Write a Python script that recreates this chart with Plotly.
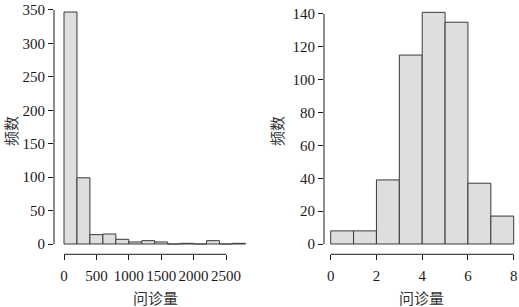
import plotly.graph_objects as go

# Left histogram: bin edges and counts
left_breaks = [0, 200, 400, 600, 800, 1000, 1200, 1400, 1600, 1800, 2000, 2200, 2400, 2600, 2800]
left_counts = [347, 99, 14, 15, 7, 3, 5, 3, 0, 1, 0, 5, 0, 1]
left_xticks = [0, 500, 1000, 1500, 2000, 2500]
left_yticks = [0, 50, 100, 150, 200, 250, 300, 350]

# Right histogram
right_breaks = [0, 1, 2, 3, 4, 5, 6, 7, 8]
right_counts = [8, 8, 39, 115, 141, 135, 37, 17]
right_xticks = [0, 2, 4, 6, 8]
right_yticks = [0, 20, 40, 60, 80, 100, 120, 140]

x_title = "问诊量"
y_title = "频数"

W, H = 519, 307
FILL = "#DEDEDE"
EDGE = "#3a3a3a"
TXT = "#1a1a1a"
SERIF = "'Times New Roman', 'Liberation Serif', 'DejaVu Serif', serif"
CJK = "Noto Sans CJK SC"


def px_x(p):
    return p / W


def px_y(p):
    return 1 - p / H


def mids(b):
    return [(b[i] + b[i + 1]) / 2 for i in range(len(b) - 1)]


def widths(b):
    return [b[i + 1] - b[i] for i in range(len(b) - 1)]


fig = go.Figure()
fig.add_trace(go.Bar(x=mids(left_breaks), y=left_counts, width=widths(left_breaks),
                     marker=dict(color=FILL, line=dict(color=EDGE, width=1)),
                     xaxis="x", yaxis="y", showlegend=False, hoverinfo="skip"))
fig.add_trace(go.Bar(x=mids(right_breaks), y=right_counts, width=widths(right_breaks),
                     marker=dict(color=FILL, line=dict(color=EDGE, width=1)),
                     xaxis="x2", yaxis="y2", showlegend=False, hoverinfo="skip"))

top_px, bot_px = 3, 254.3
# panel pixel geometry
L_x0, L_x1, L_zero, L_sx = 54, 256, 64, 0.0648
L_yzero, L_sy = 244, 0.6686
R_x0, R_x1, R_zero, R_sx = 324, 519, 330.7, 22.875
R_yzero, R_sy = 244, 1.643

tickfont = dict(family=SERIF, size=15, color=TXT)
common_x = dict(showgrid=False, zeroline=False, showline=False, ticks="outside", ticklen=5,
                tickwidth=1, tickcolor=TXT, tickfont=tickfont, tickangle=0, fixedrange=True,
                automargin=False, ticklabelstandoff=3)
common_y = dict(showgrid=False, zeroline=False, showline=False, ticks="outside", ticklen=5,
                tickwidth=1, tickcolor=TXT, tickfont=tickfont, fixedrange=True,
                automargin=False)

fig.update_layout(
    width=W, height=H, margin=dict(l=0, r=0, t=0, b=0, autoexpand=False),
    paper_bgcolor="white", plot_bgcolor="white", bargap=0,
    xaxis=dict(domain=[px_x(L_x0), px_x(L_x1)],
               range=[(L_x0 - L_zero) / L_sx, (L_x1 - L_zero) / L_sx],
               tickvals=left_xticks, ticktext=[str(v) for v in left_xticks],
               anchor="y", **common_x),
    yaxis=dict(domain=[px_y(bot_px), px_y(top_px)],
               range=[-(bot_px - L_yzero) / L_sy, (L_yzero - top_px) / L_sy],
               tickvals=left_yticks, ticktext=[str(v) for v in left_yticks],
               anchor="x", **common_y),
    xaxis2=dict(domain=[px_x(R_x0), px_x(R_x1)],
                range=[(R_x0 - R_zero) / R_sx, (R_x1 - R_zero) / R_sx],
                tickvals=right_xticks, ticktext=[str(v) for v in right_xticks],
                anchor="y2", **common_x),
    yaxis2=dict(domain=[px_y(bot_px), px_y(top_px)],
                range=[-(bot_px - R_yzero) / R_sy, (R_yzero - top_px) / R_sy],
                tickvals=right_yticks, ticktext=[str(v) for v in right_yticks],
                anchor="x2", **common_y),
)

# R-style axis lines spanning first to last tick
line = dict(color=TXT, width=1)
fig.add_shape(type="line", xref="x", yref="paper", x0=left_xticks[0], x1=left_xticks[-1],
              y0=px_y(bot_px), y1=px_y(bot_px), line=line)
fig.add_shape(type="line", xref="paper", yref="y", x0=px_x(L_x0), x1=px_x(L_x0),
              y0=left_yticks[0], y1=left_yticks[-1], line=line)
fig.add_shape(type="line", xref="x2", yref="paper", x0=right_xticks[0], x1=right_xticks[-1],
              y0=px_y(bot_px), y1=px_y(bot_px), line=line)
fig.add_shape(type="line", xref="paper", yref="y2", x0=px_x(R_x0), x1=px_x(R_x0),
              y0=right_yticks[0], y1=right_yticks[-1], line=line)

titlefont = dict(family=CJK, size=15, color="#333333")
for cx in [(L_x0 + L_x1) / 2, (R_x0 + R_x1) / 2]:
    fig.add_annotation(text=x_title, xref="paper", yref="paper", x=px_x(cx), y=px_y(297),
                       showarrow=False, font=titlefont, xanchor="center", yanchor="middle")
for cx in [10, 276]:
    fig.add_annotation(text=y_title, xref="paper", yref="paper", x=px_x(cx), y=px_y(131),
                       showarrow=False, font=titlefont, textangle=-90,
                       xanchor="center", yanchor="middle")

fig.write_html("out.html", config={"displayModeBar": False, "staticPlot": True},
               post_script="document.body.style.margin='0';document.body.style.overflow='hidden';")
